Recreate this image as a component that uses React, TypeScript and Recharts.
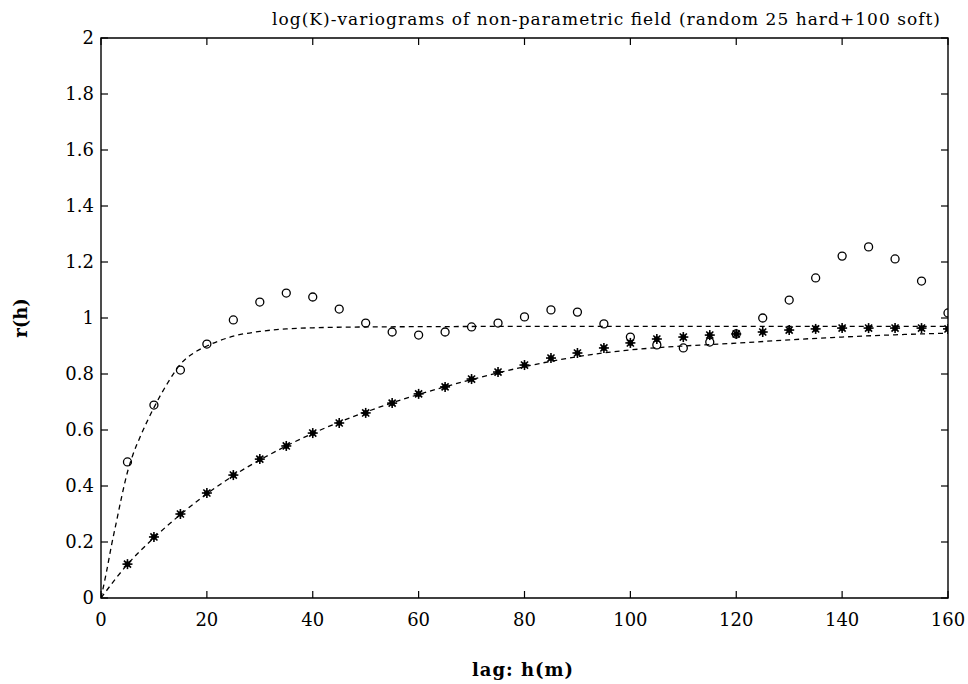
import React from "react";
import {
  ComposedChart,
  Line,
  Scatter,
  XAxis,
  YAxis,
  ReferenceArea,
} from "recharts";

// experimental variogram points (lag in m)
const lags = [
  5, 10, 15, 20, 25, 30, 35, 40, 45, 50, 55, 60, 65, 70, 75, 80, 85, 90, 95,
  100, 105, 110, 115, 120, 125, 130, 135, 140, 145, 150, 155, 160,
];
// open circles
const circleVals = [
  0.486, 0.689, 0.814, 0.907, 0.993, 1.057, 1.089, 1.075, 1.032, 0.982, 0.95,
  0.939, 0.95, 0.968, 0.982, 1.004, 1.029, 1.021, 0.979, 0.932, 0.904, 0.893,
  0.914, 0.943, 1.0, 1.064, 1.143, 1.221, 1.254, 1.211, 1.132, 1.018,
];
// asterisks
const starVals = [
  0.121, 0.218, 0.3, 0.375, 0.439, 0.496, 0.543, 0.589, 0.625, 0.661, 0.696,
  0.729, 0.754, 0.782, 0.807, 0.832, 0.857, 0.875, 0.893, 0.911, 0.925, 0.932,
  0.939, 0.943, 0.95, 0.957, 0.961, 0.964, 0.964, 0.964, 0.964, 0.961,
];

// fitted model curves (dashed)
const circleFitLags = [
  0, 1, 2, 3, 4, 5, 6, 7.5, 10, 12.5, 15, 17.5, 20, 25, 30, 35, 40, 50, 60, 80,
  100, 120, 140, 160,
];
const circleFitVals = [
  0, 0.09, 0.19, 0.28, 0.37, 0.45, 0.51, 0.58, 0.68, 0.765, 0.835, 0.875, 0.9,
  0.935, 0.952, 0.961, 0.965, 0.968, 0.969, 0.97, 0.97, 0.97, 0.97, 0.97,
];
const starFitLags = [
  0, 5, 10, 15, 20, 25, 30, 35, 40, 45, 50, 55, 60, 70, 80, 90, 100, 110, 120,
  130, 140, 150, 160,
];
const starFitVals = [
  0, 0.12, 0.215, 0.298, 0.372, 0.437, 0.493, 0.543, 0.588, 0.628, 0.664,
  0.697, 0.727, 0.78, 0.826, 0.862, 0.886, 0.9, 0.91, 0.922, 0.932, 0.94,
  0.946,
];

const xTicks = [0, 20, 40, 60, 80, 100, 120, 140, 160];
const yTicks = [0, 0.2, 0.4, 0.6, 0.8, 1, 1.2, 1.4, 1.6, 1.8, 2];

const circleData = lags.map((lag, i) => ({ lag, r: circleVals[i] }));
const starData = lags.map((lag, i) => ({ lag, r: starVals[i] }));
const circleFit = circleFitLags.map((lag, i) => ({ lag, r: circleFitVals[i] }));
const starFit = starFitLags.map((lag, i) => ({ lag, r: starFitVals[i] }));

const W = 968;
const H = 684;
const PL = 101;
const PR = 948;
const PT = 38;
const PB = 598;
const FONT = "'DejaVu Serif', 'Liberation Serif', serif";

const XTick = (props: any) => {
  const { x, payload } = props;
  return (
    <g>
      <line x1={x} x2={x} y1={PB} y2={PB - 7} stroke="#000" strokeWidth={1.2} />
      <line x1={x} x2={x} y1={PT} y2={PT + 7} stroke="#000" strokeWidth={1.2} />
      <text x={x} y={PB + 28} textAnchor="middle" fontSize={18} fontFamily={FONT} fill="#000">
        {payload.value}
      </text>
    </g>
  );
};

const YTick = (props: any) => {
  const { y, payload } = props;
  return (
    <g>
      <line x1={PL} x2={PL + 7} y1={y} y2={y} stroke="#000" strokeWidth={1.2} />
      <line x1={PR - 7} x2={PR} y1={y} y2={y} stroke="#000" strokeWidth={1.2} />
      <text x={PL - 7} y={y + 6} textAnchor="end" fontSize={18} fontFamily={FONT} fill="#000">
        {payload.value}
      </text>
    </g>
  );
};

const Star = (props: any) => {
  const { cx, cy } = props;
  const r = 5;
  const d = r * 0.707;
  return (
    <g stroke="#000" strokeWidth={1.6}>
      <line x1={cx - r} x2={cx + r} y1={cy} y2={cy} />
      <line x1={cx} x2={cx} y1={cy - r} y2={cy + r} />
      <line x1={cx - d} x2={cx + d} y1={cy - d} y2={cy + d} />
      <line x1={cx - d} x2={cx + d} y1={cy + d} y2={cy - d} />
      <circle cx={cx} cy={cy} r={2} fill="#000" />
    </g>
  );
};

const Ring = (props: any) => {
  const { cx, cy } = props;
  return <circle cx={cx} cy={cy} r={4} fill="none" stroke="#000" strokeWidth={1.3} />;
};

export default function App() {
  return (
    <div style={{ position: "absolute", left: 0, top: 0, width: W, height: H, background: "#fff" }}>
      <ComposedChart
        width={W}
        height={H}
        margin={{ top: PT, right: W - PR, bottom: 26, left: 0 }}
      >
        <XAxis
          type="number"
          dataKey="lag"
          domain={[0, 160]}
          ticks={xTicks}
          axisLine={false}
          tickLine={false}
          height={60}
          tick={<XTick />}
          allowDataOverflow
        />
        <YAxis
          type="number"
          dataKey="r"
          domain={[0, 2]}
          ticks={yTicks}
          axisLine={false}
          tickLine={false}
          width={PL}
          tick={<YTick />}
          allowDataOverflow
        />
        <ReferenceArea x1={0} x2={160} y1={0} y2={2} fill="none" stroke="#000" strokeWidth={1.4} />
        <Line
          data={circleFit}
          dataKey="r"
          type="monotone"
          stroke="#000"
          strokeWidth={1.3}
          strokeDasharray="5 4"
          dot={false}
          activeDot={false}
          isAnimationActive={false}
        />
        <Line
          data={starFit}
          dataKey="r"
          type="monotone"
          stroke="#000"
          strokeWidth={1.3}
          strokeDasharray="5 4"
          dot={false}
          activeDot={false}
          isAnimationActive={false}
        />
        <Scatter data={circleData} dataKey="r" shape={<Ring />} isAnimationActive={false} />
        <Scatter data={starData} dataKey="r" shape={<Star />} isAnimationActive={false} />
      </ComposedChart>
      <svg
        width={W}
        height={H}
        style={{ position: "absolute", left: 0, top: 0, pointerEvents: "none" }}
      >
        <text
          x={272}
          y={25}
          fontSize={17}
          fontFamily={FONT}
          textLength={668}
          lengthAdjust="spacing"
          fill="#000"
        >
          log(K)-variograms of non-parametric field (random 25 hard+100 soft)
        </text>
        <text
          x={523}
          y={676}
          textAnchor="middle"
          fontSize={18}
          fontWeight="bold"
          fontFamily={FONT}
          letterSpacing={1}
          fill="#000"
        >
          lag: h(m)
        </text>
        <text
          x={0}
          y={0}
          transform="translate(27 318) rotate(-90)"
          textAnchor="middle"
          fontSize={18}
          fontWeight="bold"
          fontFamily={FONT}
          fill="#000"
        >
          r(h)
        </text>
      </svg>
    </div>
  );
}
